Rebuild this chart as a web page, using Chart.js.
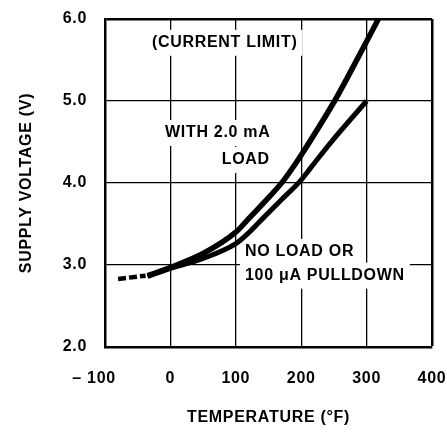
<!DOCTYPE html>
<html>
<head>
<meta charset="utf-8">
<style>
  html, body { margin: 0; padding: 0; background: #fff; }
  #wrap { width: 447px; height: 435px; }
</style>
</head>
<body>
<div id="wrap"><canvas id="voltageChart" width="447" height="435"></canvas></div>
<script src="https://cdn.jsdelivr.net/npm/chart.js"></script>
<script>
  // Values: temperature (°F) vs supply voltage (V)
  const loadTemps = [-35, 0, 50, 100, 118, 144, 172, 190, 204, 251, 279, 318];
  const loadVolts = [2.87, 2.97, 3.14, 3.40, 3.55, 3.77, 4.02, 4.22, 4.39, 5.0, 5.41, 6.0];
  const noLoadTemps = [-35, 0, 50, 100, 118, 144, 169, 198, 215, 248, 300];
  const noLoadVolts = [2.86, 2.96, 3.08, 3.26, 3.38, 3.59, 3.79, 4.02, 4.19, 4.52, 5.0];
  const dashTemps = [-80, -38];
  const dashVolts = [2.83, 2.87];

  const xTicks = [-100, 0, 100, 200, 300, 400];
  const yTicks = [2, 3, 4, 5, 6];

  // Notes on the plot, anchored in data units
  const noteTexts = ['(CURRENT LIMIT)', 'WITH 2.0 mA', 'LOAD', 'NO LOAD OR', '100 \u03BCA PULLDOWN'];
  const noteTemps = [83, 153, 152, 114, 114];
  const noteVolts = [5.71, 4.61, 4.28, 3.16, 2.87];
  const noteAligns = ['center', 'right', 'right', 'left', 'left'];

  const FONT = '"Liberation Sans", Arial, sans-serif';
  const toPoints = (xs, ys) => xs.map((t, i) => ({ x: t, y: ys[i] }));

  const notesPlugin = {
    id: 'notes',
    beforeDraw(chart) {
      chart.ctx.letterSpacing = '0.7px';
    },
    beforeDatasetsDraw(chart) {
      const { ctx, scales: { x, y } } = chart;
      ctx.save();
      ctx.font = 'bold 16px ' + FONT;
      ctx.textBaseline = 'middle';
      ctx.textAlign = 'left';
      noteTexts.forEach((t, i) => {
        const px = x.getPixelForValue(noteTemps[i]);
        const py = y.getPixelForValue(noteVolts[i]);
        const w = ctx.measureText(t).width;
        let left = px;
        if (noteAligns[i] === 'right') left = px - w;
        if (noteAligns[i] === 'center') left = px - w / 2;
        ctx.fillStyle = '#fff';
        ctx.fillRect(left - 5, py - 13, w + 10, 26);
        ctx.fillStyle = '#000';
        ctx.fillText(t, left, py);
      });
      ctx.restore();
    }
  };

  const edgeWidth = (val, edges) => (edges.includes(val) ? 2.5 : 1.3);
  const tickFont = { family: FONT, size: 16, weight: 'bold' };

  const ctx = document.getElementById('voltageChart').getContext('2d');
  const voltageChart = new Chart(ctx, {
    type: 'line',
    data: {
      datasets: [{
        label: 'With 2.0 mA load',
        data: toPoints(loadTemps, loadVolts),
        borderColor: '#000',
        borderWidth: 5.5,
        pointRadius: 0,
        cubicInterpolationMode: 'monotone'
      }, {
        label: 'No load or 100 µA pulldown',
        data: toPoints(noLoadTemps, noLoadVolts),
        borderColor: '#000',
        borderWidth: 5,
        pointRadius: 0,
        cubicInterpolationMode: 'monotone'
      }, {
        label: 'Extrapolated',
        data: toPoints(dashTemps, dashVolts),
        borderColor: '#000',
        borderWidth: 4.5,
        borderDash: [8, 3],
        pointRadius: 0
      }]
    },
    options: {
      responsive: false,
      animation: false,
      events: [],
      layout: { padding: { top: 19, right: 15, left: 0, bottom: 0 } },
      plugins: {
        legend: { display: false },
        tooltip: { enabled: false }
      },
      scales: {
        x: {
          type: 'linear',
          min: xTicks[0],
          max: xTicks[xTicks.length - 1],
          afterBuildTicks: (scale) => { scale.ticks = xTicks.map(v => ({ value: v })); },
          afterFit: (scale) => {
            scale.height = 88;
            scale.paddingLeft = 0;
            scale.paddingRight = 0;
          },
          grid: {
            color: '#000',
            drawTicks: false,
            lineWidth: (c) => edgeWidth(c.tick && c.tick.value, [400])
          },
          border: { color: '#000', width: 2.5 },
          ticks: {
            color: '#000',
            padding: 22,
            autoSkip: false,
            maxRotation: 0,
            font: tickFont,
            callback: (v) => (v < 0 ? '\u2013 ' + Math.abs(v) + '\u2003 ' : String(v))
          },
          title: {
            display: true,
            text: 'TEMPERATURE (°F)',
            color: '#000',
            font: tickFont,
            padding: { top: 0, bottom: 8 }
          }
        },
        y: {
          min: yTicks[0],
          max: yTicks[yTicks.length - 1],
          afterBuildTicks: (scale) => { scale.ticks = yTicks.map(v => ({ value: v })); },
          afterFit: (scale) => {
            scale.width = 105;
            scale.paddingTop = 0;
            scale.paddingBottom = 0;
          },
          grid: {
            color: '#000',
            drawTicks: false,
            lineWidth: (c) => edgeWidth(c.tick && c.tick.value, [6])
          },
          border: { color: '#000', width: 2.5 },
          ticks: {
            color: '#000',
            padding: 18,
            autoSkip: false,
            font: tickFont,
            callback: (v) => v.toFixed(1)
          },
          title: {
            display: true,
            text: 'SUPPLY VOLTAGE (V)',
            color: '#000',
            font: tickFont,
            padding: { top: 17, bottom: 0 }
          }
        }
      }
    },
    plugins: [notesPlugin]
  });
</script>
</body>
</html>
